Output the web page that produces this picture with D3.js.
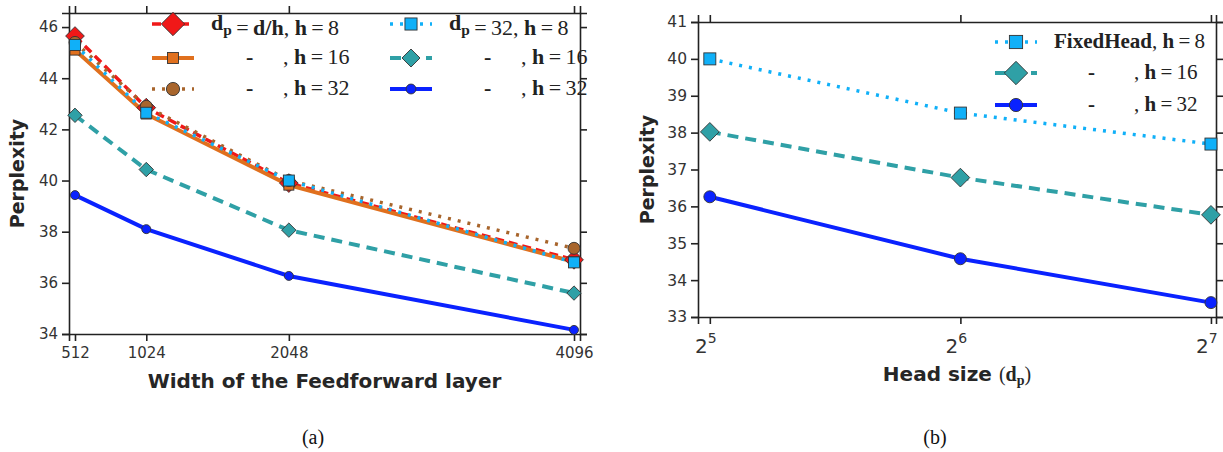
<!DOCTYPE html>
<html>
<head>
<meta charset="utf-8">
<script src="https://cdn.jsdelivr.net/npm/d3@7"></script>
<style>
  body { margin: 0; background: #fff; }
  .tick text { font-family: "DejaVu Sans", sans-serif; fill: #333; }
  .axis path, .axis line { stroke: #222; stroke-width: 1.6; }
</style>
</head>
<body>
<svg id="chart" width="1223" height="452"></svg>
<script>
// ---- data (a): perplexity vs feedforward width
const ffnWidths = [512, 1024, 2048, 4096]
const dpDh_h8 = [45.65, 42.85, 39.9, 36.9]
const dpDh_h16 = [45.1, 42.6, 39.82, 36.82]
const dpDh_h32 = [45.4, 42.9, 40.0, 37.35]
const dp32_h8 = [45.3, 42.65, 40.0, 36.8]
const dp32_h16 = [42.55, 40.43, 38.06, 35.6]
const dp32_h32 = [39.43, 38.1, 36.27, 34.16]
const yTicksA = [34, 36, 38, 40, 42, 44, 46]

// ---- data (b): perplexity vs head size
const headSizes = [32, 64, 128]
const headExponents = [5, 6, 7]
const fixed_h8 = [40.0, 38.53, 37.69]
const fixed_h16 = [38.02, 36.78, 35.77]
const fixed_h32 = [36.26, 34.58, 33.39]
const yTicksB = [33, 34, 35, 36, 37, 38, 39, 40, 41]

const colors = {
  red: '#f01818', orange: '#e0701e', brown: '#a8652c',
  sky: '#10b0f8', teal: '#2fa0a6', blue: '#0a22ff'
}

const svg = d3.select('#chart')

// legend label pieces: [text, kind]  kind: b = bold, n = normal, sub = bold subscript
const dpLabel = (rest) => [['d', 'b'], ['p', 'sub'], ['\u2009=\u2009', 'n'], ...rest]
const hLabel = (n) => [[', ', 'n'], ['h', 'b'], ['\u2009=\u2009' + n, 'n']]

const seriesA = [
  {values: dpDh_h8, color: colors.red, dash: '9,5', width: 3.5, marker: 'diamond', size: 13,
    label: [...dpLabel([['d/h', 'b']]), ...hLabel(8)], dashLabel: false},
  {values: dpDh_h16, color: colors.orange, dash: null, width: 4, marker: 'square', size: 10,
    label: hLabel(16), dashLabel: true},
  {values: dpDh_h32, color: colors.brown, dash: '3,7', width: 3.5, marker: 'circle', size: 12,
    label: hLabel(32), dashLabel: true},
  {values: dp32_h8, color: colors.sky, dash: '3,7', width: 3.5, marker: 'square', size: 11,
    label: [...dpLabel([['32', 'n']]), ...hLabel(8)], dashLabel: false},
  {values: dp32_h16, color: colors.teal, dash: '11,7', width: 4, marker: 'diamond', size: 10,
    label: hLabel(16), dashLabel: true},
  {values: dp32_h32, color: colors.blue, dash: null, width: 4, marker: 'circle', size: 9,
    label: hLabel(32), dashLabel: true}
]

const seriesB = [
  {values: fixed_h8, color: colors.sky, dash: '3,7', width: 3.5, marker: 'square', size: 12,
    label: [['FixedHead', 'b'], ...hLabel(8)], dashLabel: false},
  {values: fixed_h16, color: colors.teal, dash: '11,7', width: 4, marker: 'diamond', size: 13,
    label: hLabel(16), dashLabel: true},
  {values: fixed_h32, color: colors.blue, dash: null, width: 4, marker: 'circle', size: 12,
    label: hLabel(32), dashLabel: true}
]

function drawMarker(g, type, x, y, size, color) {
  let m
  if (type === 'circle') {
    m = g.append('circle').attr('cx', x).attr('cy', y).attr('r', size / 2)
  } else if (type === 'square') {
    m = g.append('rect').attr('x', x - size / 2).attr('y', y - size / 2)
      .attr('width', size).attr('height', size)
  } else {
    const s = size * 0.72
    m = g.append('path').attr('d', `M${x},${y - s}L${x + s},${y}L${x},${y + s}L${x - s},${y}Z`)
  }
  m.attr('fill', color).attr('stroke', '#333').attr('stroke-width', 0.9)
}

function legendText(g, x, y, parts, size) {
  const t = g.append('text').attr('x', x).attr('y', y)
    .attr('font-family', '"Liberation Serif", serif').style('font-size', size + 'px').attr('fill', '#222')
  for (const [txt, kind] of parts) {
    const sp = t.append('tspan').text(txt).attr('xml:space', 'preserve')
    if (kind === 'b') sp.attr('font-weight', 'bold')
    if (kind === 'sub') {
      sp.attr('font-weight', 'bold').style('font-size', size * 0.7 + 'px').attr('dy', 5)
      t.append('tspan').attr('dy', -5).text('')
    }
  }
  return t
}

function drawPanel(cfg) {
  const g = svg.append('g')
  const {x, y, left, right, top, bottom} = cfg

  // frame axes
  const axes = [
    [d3.axisBottom(x).tickValues(cfg.xTicks).tickFormat(cfg.xFormat), `0,${bottom}`],
    [d3.axisTop(x).tickValues(cfg.xTicks).tickFormat(''), `0,${top}`],
    [d3.axisLeft(y).tickValues(cfg.yTicks).tickFormat(d3.format('d')), `${left},0`],
    [d3.axisRight(y).tickValues(cfg.yTicks).tickFormat(''), `${right},0`]
  ]
  axes.forEach(([ax, tr], i) => {
    const a = g.append('g').attr('class', 'axis').attr('transform', `translate(${tr})`)
      .call(ax.tickSizeOuter(0).tickSize(7).tickPadding(i === 0 ? cfg.xPad : 4))
    a.selectAll('.tick text').style('font-size', (i === 0 ? cfg.xFont : cfg.yFont) + 'px')
  })
  if (cfg.afterX) cfg.afterX(g)

  // lines
  const line = d3.line().x((d, i) => x(cfg.xs[i])).y(d => y(d))
  cfg.series.forEach(s => {
    g.append('path').datum(s.values).attr('d', line)
      .attr('fill', 'none').attr('stroke', s.color).attr('stroke-width', s.width)
      .attr('stroke-dasharray', s.dash)
  })
  cfg.series.forEach(s => {
    s.values.forEach((v, i) => drawMarker(g, s.marker, x(cfg.xs[i]), y(v), s.size, s.color))
  })

  // legend
  cfg.legend.forEach((pos, i) => {
    const s = cfg.series[i]
    g.append('line').attr('x1', pos.x).attr('x2', pos.x + 42).attr('y1', pos.y).attr('y2', pos.y)
      .attr('stroke', s.color).attr('stroke-width', s.width).attr('stroke-dasharray', s.dash)
    drawMarker(g, s.marker, pos.x + 21, pos.y, s.size * (s.marker === 'diamond' ? 1.25 : 1.1), s.color)
    if (s.dashLabel) {
      g.append('text').attr('x', pos.x + cfg.dashOff).attr('y', pos.y + 6).text('-')
        .attr('font-family', '"Liberation Serif", serif').attr('font-weight', 'bold')
        .style('font-size', cfg.legendFont + 'px').attr('fill', '#222')
      legendText(g, pos.x + cfg.restOff, pos.y + 6, s.label, cfg.legendFont)
    } else {
      legendText(g, pos.x + 59, pos.y + 6, s.label, cfg.legendFont)
    }
  })

  // axis titles
  g.append('text').attr('transform', `translate(${cfg.yLabelX},${(top + bottom) / 2}) rotate(-90)`)
    .attr('text-anchor', 'middle').attr('font-family', '"DejaVu Sans", sans-serif')
    .attr('font-weight', 'bold').style('font-size', '19px').attr('fill', '#262626').text('Perplexity')
  const xl = g.append('text').attr('x', (left + right) / 2).attr('y', cfg.xLabelY)
    .attr('text-anchor', 'middle').attr('font-family', '"DejaVu Sans", sans-serif')
    .attr('font-weight', 'bold').style('font-size', '20px').attr('fill', '#262626')
  cfg.xLabel(xl)

  svg.append('text').attr('x', cfg.captionX).attr('y', 444).attr('text-anchor', 'middle')
    .attr('font-family', '"Liberation Serif", serif').style('font-size', '20px').attr('fill', '#111')
    .text(cfg.caption)
}

// panel (a)
const xA = d3.scaleLinear().domain([469, 4139]).range([69, 580])
const yA = d3.scaleLinear().domain([34, 46.55]).range([334, 13])
drawPanel({
  x: xA, y: yA, left: 69, right: 580, top: 13, bottom: 334,
  xs: ffnWidths, xTicks: ffnWidths, xFormat: d3.format('d'), xFont: 15, xPad: 6,
  yTicks: yTicksA, yFont: 15,
  series: seriesA,
  legend: [{x: 152, y: 24}, {x: 152, y: 58}, {x: 152, y: 89},
           {x: 390, y: 24}, {x: 390, y: 58}, {x: 390, y: 89}],
  legendFont: 22, dashOff: 94, restOff: 131,
  yLabelX: 24, xLabelY: 388,
  xLabel: t => t.text('Width of the Feedforward layer'),
  caption: '(a)', captionX: 313
})

// panel (b)
const xB = d3.scaleLog().base(2).domain([30.97, 129.8]).range([698, 1216])
const yB = d3.scaleLinear().domain([33, 41]).range([317, 22])
drawPanel({
  x: xB, y: yB, left: 698, right: 1216, top: 22, bottom: 317,
  xs: headSizes, xTicks: headSizes, xFormat: () => '', xFont: 18, xPad: 6,
  yTicks: yTicksB, yFont: 15.5,
  series: seriesB,
  legend: [{x: 995, y: 42}, {x: 995, y: 73}, {x: 995, y: 105}],
  legendFont: 21, dashOff: 93, restOff: 139,
  yLabelX: 654, xLabelY: 381,
  afterX: g => {
    headSizes.forEach((h, i) => {
      const t = g.append('text').attr('x', xB(h) - 4).attr('y', 353).attr('text-anchor', 'middle')
        .attr('font-family', '"DejaVu Sans", sans-serif').style('font-size', '20px').attr('fill', '#333')
      t.append('tspan').text('2')
      t.append('tspan').attr('dy', -10).style('font-size', '14px').text(headExponents[i])
    })
  },
  xLabel: t => {
    t.append('tspan').text('Head size ')
    t.append('tspan').attr('font-family', '"Liberation Serif", serif').attr('font-weight', 'normal').text('(')
    t.append('tspan').attr('font-family', '"Liberation Serif", serif').text('d')
    t.append('tspan').attr('font-family', '"Liberation Serif", serif').style('font-size', '14px').attr('dy', 4).text('p')
    t.append('tspan').attr('font-family', '"Liberation Serif", serif').attr('font-weight', 'normal').attr('dy', -4).text(')')
  },
  caption: '(b)', captionX: 935
})
</script>
</body>
</html>
